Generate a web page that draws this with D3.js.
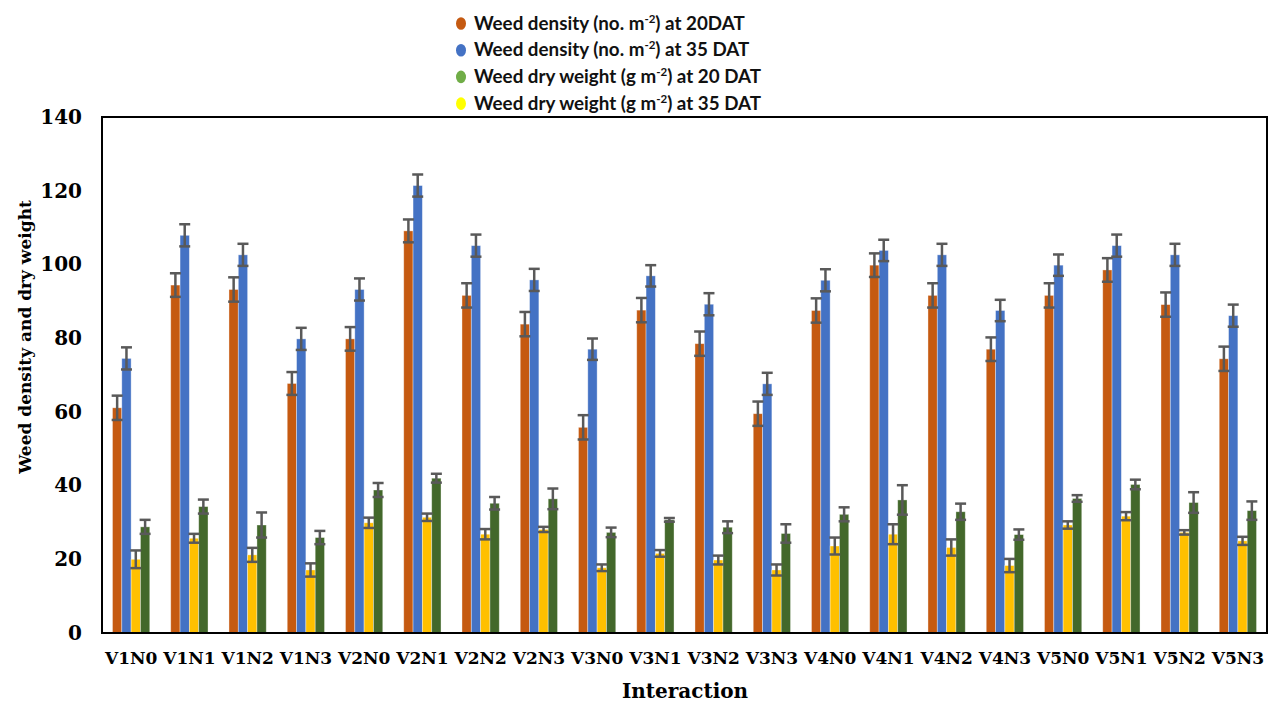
<!DOCTYPE html>
<html>
<head>
<meta charset="utf-8">
<script src="https://cdn.jsdelivr.net/npm/d3@7"></script>
<style>
  html, body { margin: 0; padding: 0; background: #fff; }
  svg { display: block; }
</style>
</head>
<body>
<svg id="chart" width="1268" height="702"></svg>
<script>
// Treatment combinations (variety x nitrogen)
const categories = ["V1N0","V1N1","V1N2","V1N3","V2N0","V2N1","V2N2","V2N3","V3N0","V3N1",
                    "V3N2","V3N3","V4N0","V4N1","V4N2","V4N3","V5N0","V5N1","V5N2","V5N3"];

// Weed density (no. m-2) at 20 DAT
const density20 = [61.1, 94.4, 93.2, 67.7, 79.8, 109.1, 91.6, 83.8, 55.8, 87.6,
                   78.5, 59.5, 87.5, 99.8, 91.6, 77.0, 91.6, 98.5, 89.1, 74.4];
const density20Err = [3.3, 3.2, 3.3, 3.1, 3.2, 3.1, 3.3, 3.3, 3.3, 3.3,
                      3.3, 3.3, 3.3, 3.2, 3.3, 3.2, 3.3, 3.2, 3.3, 3.3];

// Weed density (no. m-2) at 35 DAT
const density35 = [74.5, 107.9, 102.6, 79.8, 93.2, 121.4, 105.1, 95.8, 77.0, 96.9,
                   89.2, 67.6, 95.7, 103.8, 102.6, 87.5, 99.8, 105.1, 102.6, 86.1];
const density35Err = [3.0, 3.0, 3.0, 3.0, 3.0, 3.0, 3.0, 3.0, 2.9, 2.9,
                      3.0, 3.0, 3.0, 2.9, 3.0, 2.9, 2.9, 3.0, 3.0, 3.0];

// Weed dry weight (g m-2) at 35 DAT
const dryWeight35 = [20.0, 25.7, 21.2, 17.1, 29.9, 31.4, 26.8, 28.1, 17.7, 21.6,
                     19.8, 17.1, 23.6, 26.8, 23.2, 18.3, 29.3, 31.7, 27.3, 25.0];
const dryWeight35Err = [2.4, 1.2, 1.9, 1.8, 1.4, 1.0, 1.4, 0.7, 0.9, 0.9,
                        1.2, 1.5, 2.3, 2.7, 2.2, 1.8, 1.0, 1.1, 0.6, 1.1];

// Weed dry weight (g m-2) at 20 DAT
const dryWeight20 = [28.8, 34.3, 29.3, 25.9, 38.8, 42.0, 35.2, 36.4, 27.3, 30.7,
                     28.7, 27.0, 32.2, 36.1, 32.9, 26.7, 36.5, 40.3, 35.4, 33.2];
const dryWeight20Err = [1.9, 1.9, 3.4, 1.8, 1.9, 1.2, 1.7, 2.8, 1.3, 0.5,
                        1.6, 2.5, 1.9, 4.0, 2.2, 1.4, 0.9, 1.3, 2.8, 2.5];

const yTicks = [0, 20, 40, 60, 80, 100, 120, 140];

// Bars within each group, left to right
const series = [
  { key: "d20", values: density20,   errors: density20Err,   color: "#C55A11" },
  { key: "d35", values: density35,   errors: density35Err,   color: "#4472C4" },
  { key: "w35", values: dryWeight35, errors: dryWeight35Err, color: "#FFC000" },
  { key: "w20", values: dryWeight20, errors: dryWeight20Err, color: "#43682B" }
];

// Legend entries (marker colour, text before superscript, superscript, text after)
const legendItems = [
  { color: "#C55A11", pre: "Weed density (no. m", sup: "-2", post: ") at 20DAT" },
  { color: "#4472C4", pre: "Weed density (no. m", sup: "-2", post: ") at 35 DAT" },
  { color: "#70AD47", pre: "Weed dry weight (g m", sup: "-2", post: ") at 20 DAT" },
  { color: "#FFFF00", pre: "Weed dry weight (g m", sup: "-2", post: ") at 35 DAT" }
];

const svg = d3.select("#chart");
const plot = { left: 102, right: 1267, top: 117, bottom: 633 };
const serifFont = "'DejaVu Serif', 'Liberation Serif', serif";

const x = d3.scaleBand()
  .domain(categories)
  .range([plot.left, plot.right])
  .paddingInner(0.36)
  .paddingOuter(0.18);

const xInner = d3.scaleBand()
  .domain(series.map(s => s.key))
  .range([0, x.bandwidth()]);

const y = d3.scaleLinear().domain([0, 140]).range([plot.bottom, plot.top]);

// Bars
const groups = svg.append("g").selectAll("g")
  .data(categories)
  .join("g")
  .attr("transform", d => `translate(${x(d)},0)`);

groups.each(function(cat, i) {
  const g = d3.select(this);
  series.forEach(s => {
    g.append("rect")
      .attr("x", xInner(s.key))
      .attr("y", y(s.values[i]))
      .attr("width", xInner.bandwidth())
      .attr("height", y(0) - y(s.values[i]))
      .attr("fill", s.color)
      .attr("stroke", "rgba(255,255,255,0.45)")
      .attr("stroke-width", 0.8);
  });
});

// Error bars
groups.each(function(cat, i) {
  const g = d3.select(this);
  series.forEach(s => {
    const cx = xInner(s.key) + xInner.bandwidth() / 2;
    const v = s.values[i], e = s.errors[i];
    const hw = 5.5;
    const eb = g.append("g")
      .attr("stroke", "#595959")
      .attr("stroke-width", 2.5)
      .attr("fill", "none");
    eb.append("line").attr("x1", cx).attr("x2", cx).attr("y1", y(v + e)).attr("y2", y(v - e));
    eb.append("line").attr("x1", cx - hw).attr("x2", cx + hw).attr("y1", y(v + e)).attr("y2", y(v + e));
    eb.append("line").attr("x1", cx - hw).attr("x2", cx + hw).attr("y1", y(v - e)).attr("y2", y(v - e));
  });
});

// Plot frame
svg.append("rect")
  .attr("x", plot.left)
  .attr("y", plot.top)
  .attr("width", plot.right - plot.left)
  .attr("height", plot.bottom - plot.top)
  .attr("fill", "none")
  .attr("stroke", "#000")
  .attr("stroke-width", 2);

// Y axis labels
const yAxis = d3.axisLeft(y).tickValues(yTicks).tickSize(0).tickPadding(20);
const yG = svg.append("g")
  .attr("transform", `translate(${plot.left},0)`)
  .call(yAxis);
yG.select(".domain").remove();
yG.selectAll("text")
  .attr("font-family", serifFont)
  .attr("font-weight", "bold")
  .attr("font-size", 20)
  .attr("fill", "#000");

// X axis labels
const xAxis = d3.axisBottom(x).tickSize(0).tickPadding(19);
const xG = svg.append("g")
  .attr("transform", `translate(0,${plot.bottom})`)
  .call(xAxis);
xG.select(".domain").remove();
xG.selectAll("text")
  .attr("font-family", serifFont)
  .attr("font-weight", "bold")
  .attr("font-size", 17)
  .attr("fill", "#000");

// Axis titles
svg.append("text")
  .attr("transform", `translate(31,${(plot.top + plot.bottom) / 2 - 38}) rotate(-90)`)
  .attr("text-anchor", "middle")
  .attr("font-family", serifFont)
  .attr("font-weight", "bold")
  .attr("font-size", 17)
  .attr("fill", "#000")
  .text("Weed density and dry weight");

svg.append("text")
  .attr("x", 685)
  .attr("y", 698)
  .attr("text-anchor", "middle")
  .attr("font-family", serifFont)
  .attr("font-weight", "bold")
  .attr("font-size", 20)
  .attr("fill", "#000")
  .text("Interaction");

// Legend
const legend = svg.append("g");
legendItems.forEach((item, i) => {
  const baseY = 29.5 + i * 26.7;
  legend.append("ellipse")
    .attr("cx", 461)
    .attr("cy", baseY - 6)
    .attr("rx", 5)
    .attr("ry", 6.3)
    .attr("fill", item.color);
  const t = legend.append("text")
    .attr("x", 474)
    .attr("y", baseY)
    .attr("font-family", "Lato, 'Open Sans', sans-serif")
    .attr("font-weight", "bold")
    .attr("font-size", 18.8)
    .attr("fill", "#111");
  t.append("tspan").text(item.pre);
  t.append("tspan").attr("font-size", 11.5).attr("dy", -7).text(item.sup);
  t.append("tspan").attr("dy", 7).text(item.post);
});
</script>
</body>
</html>
